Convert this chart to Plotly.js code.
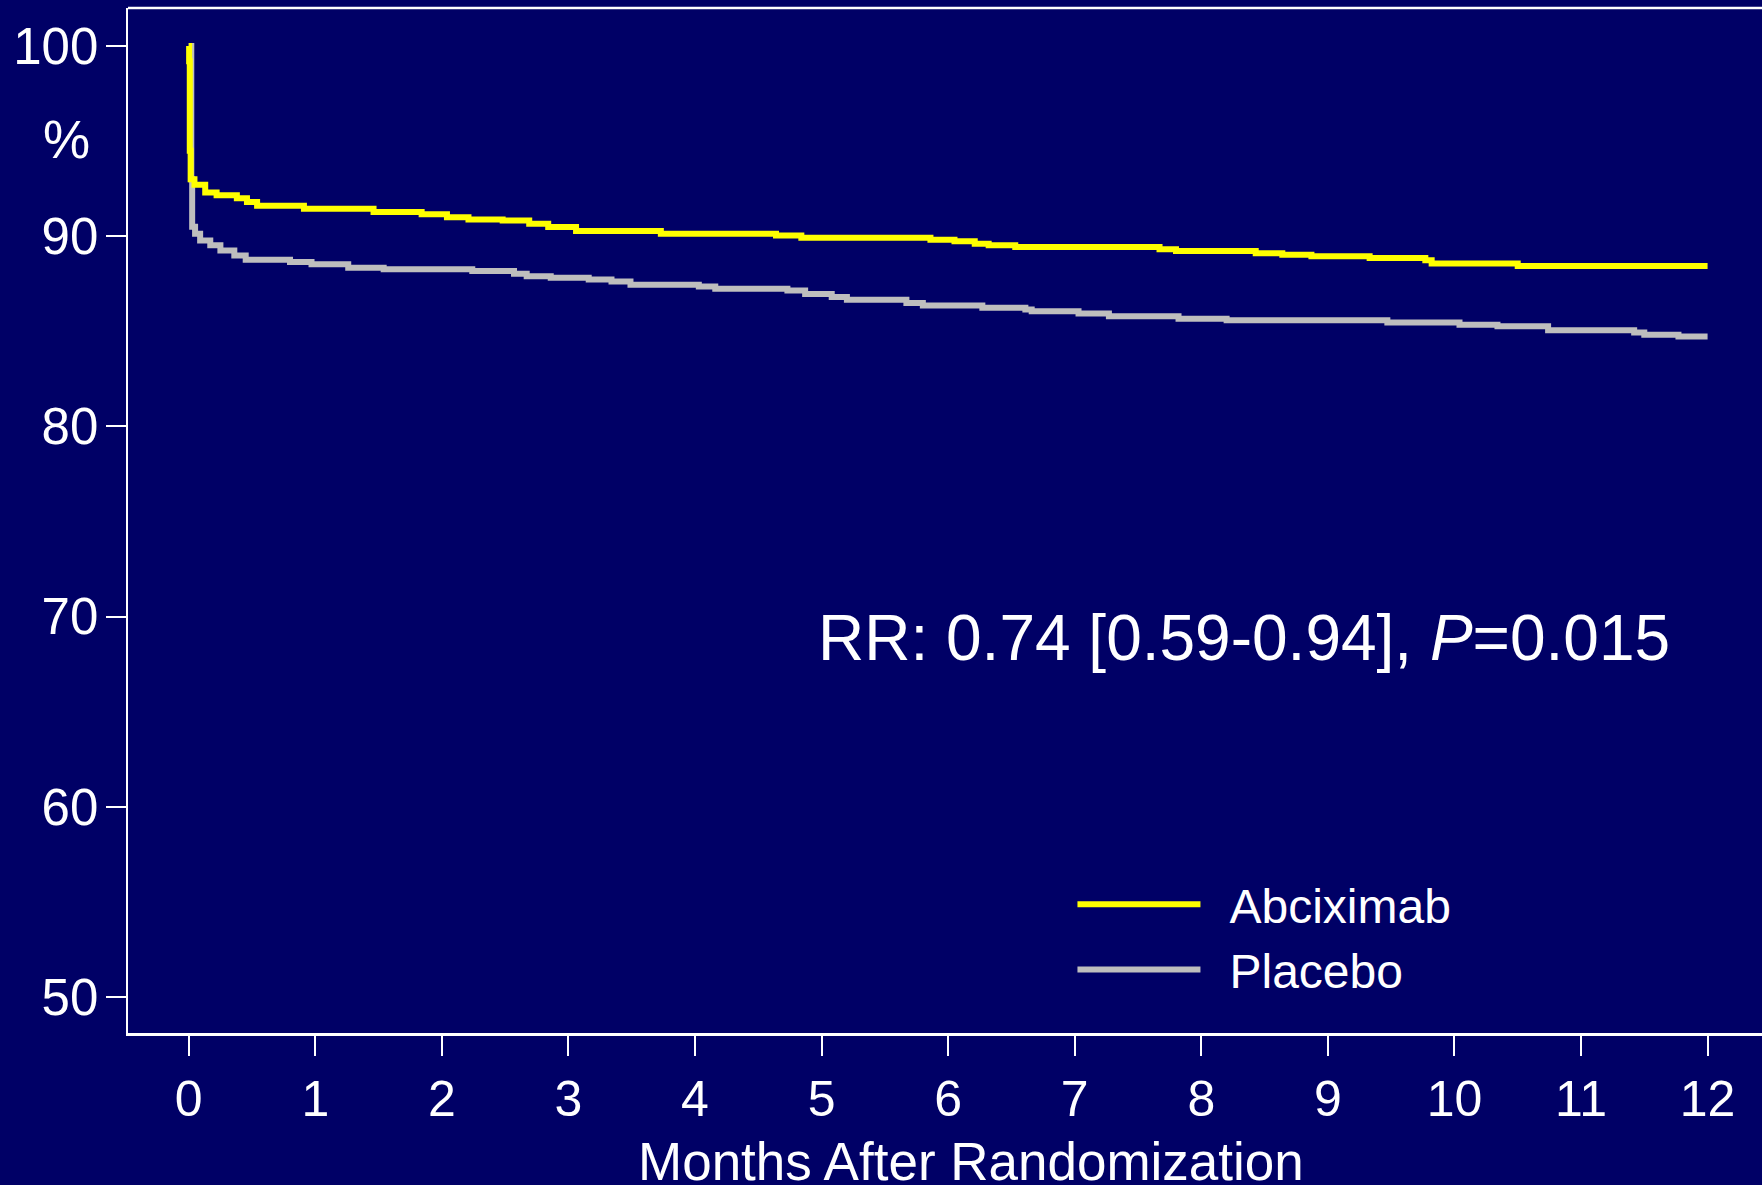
<!DOCTYPE html>
<html>
<head>
<meta charset="utf-8">
<script src="https://cdn.plot.ly/plotly-3.0.1.min.js"></script>
<style>
  html, body { margin: 0; padding: 0; background: #000066; overflow: hidden; }
  #chart { width: 1762px; height: 1185px; }
</style>
</head>
<body>
<div id="chart"></div>
<script>
// ---- Data ----
const seriesNames = ["Abciximab", "Placebo"];

const monthsAbciximab = [0, 0.003, 0.008, 0.015, 0.045, 0.13, 0.22, 0.38, 0.46, 0.54, 0.91, 1.46, 1.84, 2.04, 2.21, 2.48, 2.69, 2.84, 3.06, 3.73, 4.64, 4.84, 5.86, 6.05, 6.21, 6.32, 6.53, 7.67, 7.8, 8.43, 8.64, 8.87, 9.33, 9.77, 9.82, 10.5, 12.0];
const survivalAbciximab = [100, 99.2, 94.5, 93.0, 92.7, 92.3, 92.15, 92.0, 91.8, 91.6, 91.45, 91.27, 91.15, 91.0, 90.88, 90.83, 90.66, 90.48, 90.27, 90.13, 90.04, 89.92, 89.81, 89.73, 89.6, 89.52, 89.43, 89.31, 89.22, 89.11, 89.02, 88.94, 88.85, 88.73, 88.56, 88.43, 88.43];

const monthsPlacebo = [0, 0.02, 0.027, 0.05, 0.09, 0.17, 0.25, 0.36, 0.45, 0.80, 0.97, 1.26, 1.54, 2.24, 2.57, 2.67, 2.86, 3.16, 3.34, 3.49, 4.03, 4.16, 4.73, 4.87, 5.08, 5.20, 5.67, 5.80, 6.27, 6.61, 6.66, 7.03, 7.27, 7.82, 8.2, 9.47, 10.04, 10.34, 10.74, 11.42, 11.5, 11.77, 12.0];
const survivalPlacebo = [100, 93.0, 90.5, 90.13, 89.78, 89.52, 89.25, 88.99, 88.76, 88.64, 88.52, 88.34, 88.26, 88.17, 88.03, 87.89, 87.82, 87.72, 87.62, 87.45, 87.36, 87.24, 87.15, 86.96, 86.80, 86.66, 86.49, 86.36, 86.24, 86.14, 86.06, 85.93, 85.79, 85.66, 85.58, 85.46, 85.35, 85.26, 85.05, 84.94, 84.82, 84.73, 84.73];

const xTickValues = [0, 1, 2, 3, 4, 5, 6, 7, 8, 9, 10, 11, 12];
const yTickValues = [50, 60, 70, 80, 90, 100];

const xAxisTitle = "Months After Randomization";
const yAxisTitle = "%";
const statsText = "RR: 0.74 [0.59-0.94], <i>P</i>=0.015";

// ---- Styling ----
const BG = "#000066";
const FONT = "'Liberation Sans', Arial, Helvetica, sans-serif";
const GAP = "\u2002"; // spacing between legend line sample and its label

const traces = [
  {
    x: monthsPlacebo, y: survivalPlacebo, name: GAP + seriesNames[1],
    type: "scatter", mode: "lines",
    line: { color: "#BEBEBE", width: 6, shape: "hv" },
    hoverinfo: "skip"
  },
  {
    x: monthsAbciximab, y: survivalAbciximab, name: GAP + seriesNames[0],
    type: "scatter", mode: "lines",
    line: { color: "#FFFF00", width: 6, shape: "hv" },
    hoverinfo: "skip"
  }
];

const layout = {
  width: 1762, height: 1185,
  paper_bgcolor: BG, plot_bgcolor: BG,
  margin: { l: 128, r: 0, t: 8, b: 152, pad: 0 },
  font: { family: FONT, color: "#FFFFFF", size: 50 },
  showlegend: true,
  legend: {
    x: 0.578, xanchor: "left", y: 0.1625, yanchor: "top",
    traceorder: "reversed",
    bgcolor: "rgba(0,0,0,0)", borderwidth: 0,
    font: { family: FONT, size: 48, color: "#FFFFFF" },
    itemwidth: 123,
    itemclick: false, itemdoubleclick: false
  },
  xaxis: {
    range: [-0.48, 12.43],
    tickvals: xTickValues,
    ticktext: xTickValues.map(String),
    ticks: "outside", ticklen: 20, tickwidth: 2, tickcolor: "#FFFFFF",
    ticklabelstandoff: 0,
    tickfont: { family: FONT, size: 50, color: "#FFFFFF" },
    showline: true, linecolor: "#FFFFFF", linewidth: 2.5,
    showgrid: false, zeroline: false,
    fixedrange: true
  },
  yaxis: {
    range: [48.1, 102],
    tickvals: yTickValues,
    ticktext: yTickValues.map(String),
    ticks: "outside", ticklen: 20, tickwidth: 2, tickcolor: "#FFFFFF",
    ticklabelstandoff: -3,
    tickfont: { family: FONT, size: 51, color: "#FFFFFF" },
    showline: true, linecolor: "#FFFFFF", linewidth: 2.5,
    showgrid: false, zeroline: false,
    fixedrange: true
  },
  shapes: [
    { type: "line", xref: "paper", yref: "paper", x0: 0, x1: 1, y0: 1, y1: 1,
      line: { color: "#FFFFFF", width: 2.5 } }
  ],
  annotations: [
    { text: yAxisTitle, xref: "paper", yref: "y", x: -0.0376, y: 95.1,
      xanchor: "center", yanchor: "middle", showarrow: false,
      font: { family: FONT, size: 53, color: "#FFFFFF" } },
    { text: xAxisTitle, xref: "paper", yref: "paper", x: 0.516, y: -0.1249,
      xanchor: "center", yanchor: "middle", showarrow: false,
      font: { family: FONT, size: 53, color: "#FFFFFF" } },
    { text: statsText, xref: "paper", yref: "paper", x: 0.683, y: 0.385,
      xanchor: "center", yanchor: "middle", showarrow: false,
      font: { family: FONT, size: 64, color: "#FFFFFF" } }
  ]
};

Plotly.newPlot("chart", traces, layout, { staticPlot: true, displayModeBar: false });
</script>
</body>
</html>
